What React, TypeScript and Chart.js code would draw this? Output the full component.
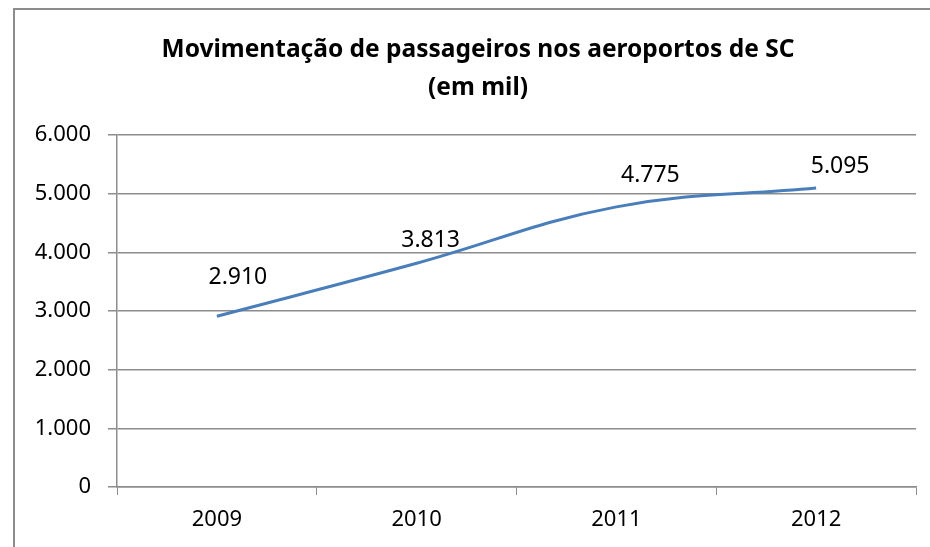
import React, { useEffect, useRef } from "react";
import { Chart, registerables } from "chart.js";

Chart.register(...registerables);

const categories = ["2009", "2010", "2011", "2012"];
const passengers = [2910, 3813, 4775, 5095];
const yMin = 0;
const yMax = 6000;
const yStep = 1000;
const titleLines = ["Movimentação de passageiros nos aeroportos de SC", "(em mil)"];

const FONT = "'Noto Sans', 'Open Sans', sans-serif";
const GRID = "#8c8c8c";
const LINE = "#4a7ebb";

function fmt(v: number): string {
  const s = Math.round(v).toString();
  return s.replace(/\B(?=(\d{3})+(?!\d))/g, ".");
}

// label placement relative to each point (pixels), as manually placed in the original
const LABEL_SHIFT_X = [21, 14, 34, 24];
const LABEL_SHIFT_Y = [-39, -23, -31, -22];

const dataLabelPlugin = {
  id: "dataLabels",
  afterDatasetsDraw(chart: any) {
    const ctx = chart.ctx;
    const meta = chart.getDatasetMeta(0);
    const data = chart.data.datasets[0].data as number[];
    ctx.save();
    ctx.font = `23px ${FONT}`;
    ctx.fillStyle = "#000";
    ctx.textAlign = "center";
    ctx.textBaseline = "middle";
    meta.data.forEach((pt: any, i: number) => {
      ctx.fillText(fmt(data[i]), pt.x + LABEL_SHIFT_X[i], pt.y + LABEL_SHIFT_Y[i]);
    });
    ctx.restore();
  },
};

// chart title, centred over the chart frame (the frame starts left of the canvas edge)
const titlePlugin = {
  id: "frameTitle",
  afterDraw(chart: any) {
    const ctx = chart.ctx;
    ctx.save();
    ctx.font = `bold 24.5px ${FONT}`;
    ctx.fillStyle = "#000";
    ctx.textAlign = "center";
    ctx.textBaseline = "middle";
    const cx = (14 + chart.width + 12) / 2;
    titleLines.forEach((line, i) => {
      ctx.fillText(line, cx, 50 + i * 38);
    });
    ctx.restore();
  },
};

export default function App() {
  const ref = useRef<HTMLCanvasElement | null>(null);

  useEffect(() => {
    if (!ref.current) return;
    const chart = new Chart(ref.current, {
      type: "line",
      data: {
        labels: categories,
        datasets: [
          {
            data: passengers,
            borderColor: LINE,
            backgroundColor: LINE,
            borderWidth: 3,
            pointRadius: 0,
            tension: 0.4,
            cubicInterpolationMode: "default",
            fill: false,
          },
        ],
      },
      options: {
        responsive: false,
        animation: false,
        events: [],
        layout: { padding: { left: 0, right: 14, top: 135, bottom: 0 } },
        plugins: {
          legend: { display: false },
          tooltip: { enabled: false },
          title: { display: false },
        },
        scales: {
          x: {
            offset: true,
            grid: {
              offset: true,
              drawOnChartArea: false,
              drawTicks: true,
              tickLength: 8,
              color: GRID,
            },
            border: { display: true, color: GRID, width: 1.5 },
            ticks: {
              color: "#000",
              font: { family: FONT, size: 22 },
              padding: 12,
              maxRotation: 0,
            },
            afterFit(scale: any) {
              scale.height = 60;
            },
          },
          y: {
            min: yMin,
            max: yMax,
            grid: {
              color: GRID,
              lineWidth: 1.5,
              drawTicks: true,
              tickLength: 9,
            },
            border: { display: true, color: GRID, width: 1.5 },
            ticks: {
              stepSize: yStep,
              color: "#000",
              font: { family: FONT, size: 22 },
              padding: 17,
              callback: (v: any) => fmt(Number(v)),
            },
            afterFit(scale: any) {
              scale.width = 117;
            },
          },
        },
      },
      plugins: [dataLabelPlugin, titlePlugin],
    });
    return () => chart.destroy();
  }, []);

  return (
    <div
      style={{
        position: "fixed",
        left: 0,
        top: 0,
        width: 930,
        height: 547,
        overflow: "hidden",
        background: "#fff",
      }}
    >
      <div
        style={{
          position: "absolute",
          left: 13,
          top: 8,
          width: 960,
          height: 600,
          borderLeft: "2px solid #8c8c8c",
          borderTop: "2px solid #8c8c8c",
        }}
      />
      <canvas
        ref={ref}
        width={930}
        height={547}
        style={{ position: "absolute", left: 0, top: 0, width: 930, height: 547 }}
      />
    </div>
  );
}
